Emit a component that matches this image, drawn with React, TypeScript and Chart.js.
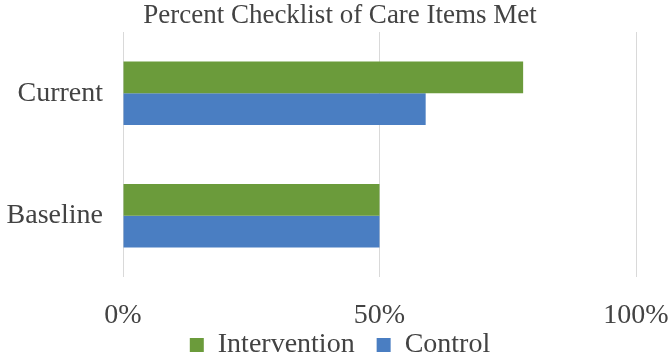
import React, { useEffect, useRef } from "react";
import { Chart, registerables } from "chart.js";

Chart.register(...registerables);

const categories = ["Current", "Baseline"];
const interventionValues = [78, 50];
const controlValues = [59, 50];
const seriesNames = ["Intervention", "Control"];
const xTickValues = [0, 50, 100];

const FONT = "'Liberation Serif', serif";
const TEXT = "#434343";

const legendShift = {
  id: "legendShift",
  afterLayout(chart: any) {
    if (chart.legend) {
      chart.legend.top -= 24;
      chart.legend.bottom -= 24;
    }
  },
};

export default function App() {
  const ref = useRef<HTMLCanvasElement | null>(null);

  useEffect(() => {
    if (!ref.current) return;
    const chart = new Chart(ref.current, {
      type: "bar",
      data: {
        labels: categories,
        datasets: [
          {
            label: seriesNames[0],
            data: interventionValues,
            backgroundColor: "#6b9b3b",
            borderWidth: 0,
            categoryPercentage: 0.52,
            barPercentage: 1,
          },
          {
            label: seriesNames[1],
            data: controlValues,
            backgroundColor: "#4a7ec2",
            borderWidth: 0,
            categoryPercentage: 0.52,
            barPercentage: 1,
          },
        ],
      },
      plugins: [legendShift],
      options: {
        indexAxis: "y",
        responsive: false,
        animation: false,
        devicePixelRatio: 1,
        layout: { padding: { left: 0, right: -12, top: 0, bottom: -37 } },
        plugins: {
          title: {
            display: true,
            text: "Percent Checklist of Care Items Met",
            color: TEXT,
            font: { family: FONT, size: 27, weight: "normal", lineHeight: 1.0 },
            padding: { top: 2, bottom: 3 },
          },
          legend: {
            position: "bottom",
            labels: {
              color: TEXT,
              font: { family: FONT, size: 28 },
              boxWidth: 14,
              boxHeight: 14,
              padding: 22,
            },
          },
          tooltip: { enabled: false },
        },
        scales: {
          x: {
            min: 0,
            max: 100,
            afterBuildTicks: (scale: any) => {
              scale.ticks = xTickValues.map((v) => ({ value: v }));
            },
            afterFit: (scale: any) => {
              scale.height = 56;
              scale.paddingLeft = 0;
              scale.paddingRight = 32;
            },
            ticks: {
              color: TEXT,
              font: { family: FONT, size: 28 },
              padding: 22,
              maxRotation: 0,
              callback: (v: any) => v + "%",
            },
            grid: { color: "#d9d9d9", lineWidth: 1, drawTicks: false },
            border: { display: false },
          },
          y: {
            afterFit: (scale: any) => {
              scale.width = 123;
            },
            ticks: {
              color: TEXT,
              font: { family: FONT, size: 28, lineHeight: 0.4 },
              padding: 20,
            },
            grid: { display: false, drawTicks: false },
            border: { display: false },
          },
        },
      },
    });
    return () => chart.destroy();
  }, []);

  return (
    <div style={{ position: "absolute", left: 0, top: 0, width: 668, height: 356, background: "#fff" }}>
      <canvas ref={ref} width={668} height={356} />
    </div>
  );
}
